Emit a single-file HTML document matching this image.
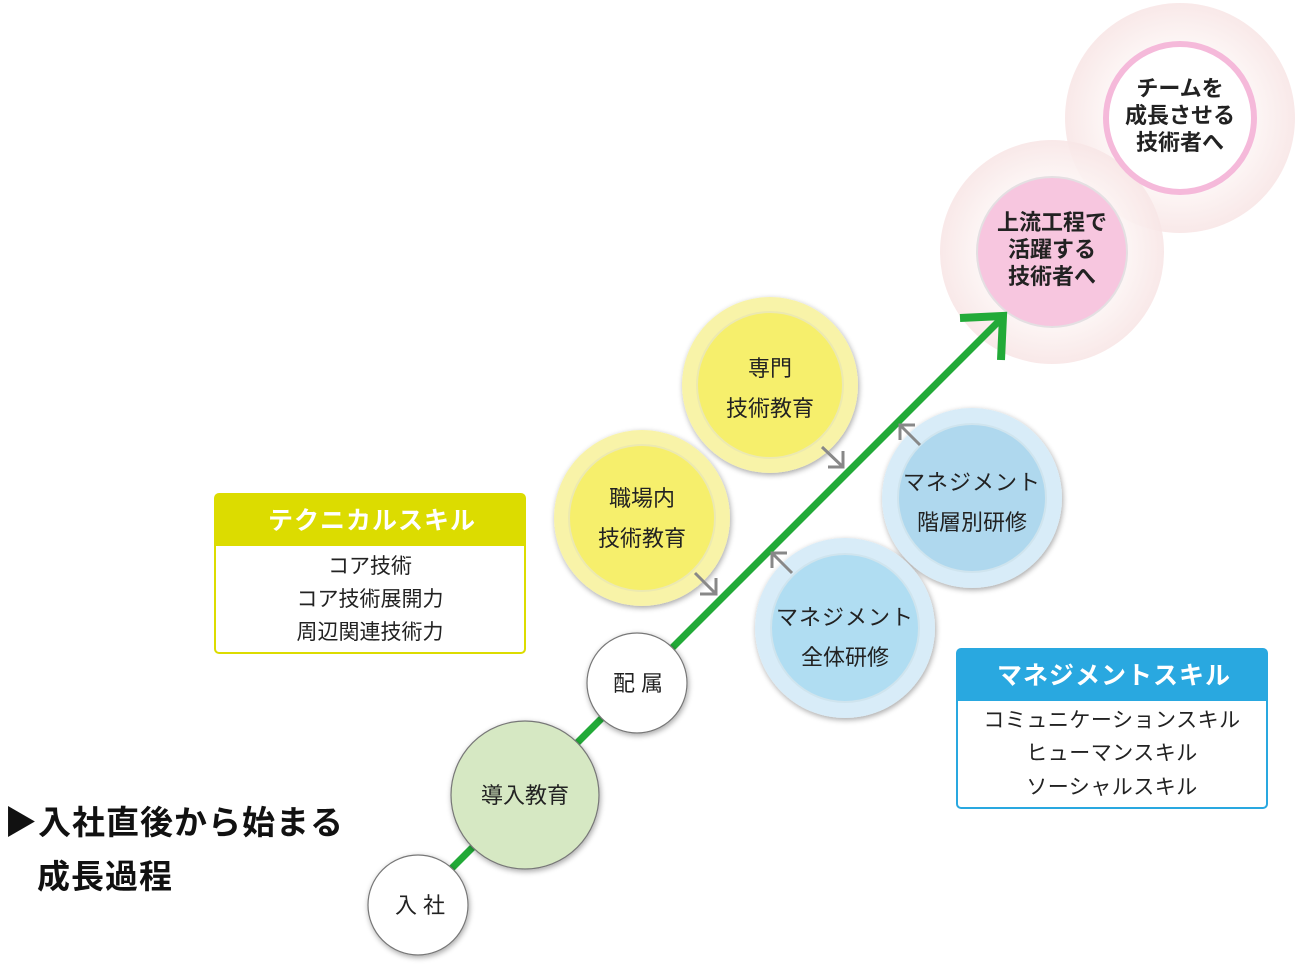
<!DOCTYPE html>
<html><head><meta charset="utf-8"><style>
html,body{margin:0;padding:0;background:#fff;}
svg{display:block;font-family:"Liberation Sans","Noto Sans CJK JP",sans-serif;}
</style></head><body>
<svg width="1300" height="968" viewBox="0 0 1300 968" xmlns="http://www.w3.org/2000/svg">
<defs>
<filter id="sh" x="-20%" y="-20%" width="140%" height="140%"><feGaussianBlur in="SourceAlpha" stdDeviation="3"/><feOffset dx="1" dy="2"/><feComponentTransfer><feFuncA type="linear" slope="0.35"/></feComponentTransfer><feMerge><feMergeNode/><feMergeNode in="SourceGraphic"/></feMerge></filter>
<radialGradient id="pk"><stop offset="0.6" stop-color="#fdf7f6"/><stop offset="1" stop-color="#f8e6e6"/></radialGradient>
</defs>
<circle cx="1180" cy="118" r="115" fill="url(#pk)" opacity="0.9"/>
<circle cx="1052" cy="252" r="112" fill="url(#pk)" opacity="0.9"/>
<circle cx="1180" cy="118" r="74" fill="#fff" stroke="#f5b9da" stroke-width="6"/>
<circle cx="1052" cy="252" r="75" fill="#f7c6df" stroke="#e4dfe2" stroke-width="2"/>
<g font-weight="bold" font-size="22" text-anchor="middle" fill="#222">
<text x="1180" y="96">チームを</text><text x="1180" y="123">成長させる</text><text x="1180" y="150">技術者へ</text>
<text x="1052" y="230">上流工程で</text><text x="1052" y="257">活躍する</text><text x="1052" y="284">技術者へ</text>
</g>
<g filter="url(#sh)">
<circle cx="770" cy="385" r="88" fill="#f8f3a8"/><circle cx="770" cy="385" r="73" fill="#f6ef6c" stroke="#ece9b0" stroke-width="2"/>
<circle cx="642" cy="518" r="88" fill="#f8f3a8"/><circle cx="642" cy="518" r="73" fill="#f6ef6c" stroke="#ece9b0" stroke-width="2"/>
<circle cx="972" cy="498" r="90" fill="#d8ecf8"/><circle cx="972" cy="498" r="74" fill="#afd8ee" stroke="#cfe4ee" stroke-width="2"/>
<circle cx="845" cy="628" r="90" fill="#d8ecf8"/><circle cx="845" cy="628" r="74" fill="#b0ddf2" stroke="#cfe4ee" stroke-width="2"/>
</g>
<line x1="440" y1="880" x2="1002" y2="318" stroke="#22aa38" stroke-width="7"/>
<polyline points="960,318 1003,316 1001,360" fill="none" stroke="#22aa38" stroke-width="8"/>
<g filter="url(#sh)">
<circle cx="418" cy="905" r="50" fill="#fff" stroke="#777" stroke-width="1.2"/>
<circle cx="525" cy="795" r="74" fill="#d6e8c3" stroke="#777" stroke-width="1.2"/>
<circle cx="637" cy="683" r="50" fill="#fff" stroke="#777" stroke-width="1.2"/>
</g>
<g stroke="#888" stroke-width="3" fill="none">
<line x1="822" y1="447" x2="843" y2="467"/><polyline points="828,467 843,467 843,451"/>
<line x1="695" y1="573" x2="716" y2="594"/><polyline points="700,594 716,594 716,578"/>
<line x1="920" y1="445" x2="900" y2="425"/><polyline points="900,440 900,425 915,425"/>
<line x1="792" y1="573" x2="772" y2="553"/><polyline points="772,568 772,553 787,553"/>
</g>
<g font-size="22" text-anchor="middle" fill="#222">
<text x="770" y="376">専門</text><text x="770" y="416">技術教育</text>
<text x="642" y="506">職場内</text><text x="642" y="546">技術教育</text>
<text x="972" y="490" letter-spacing="1">マネジメント</text><text x="972" y="530">階層別研修</text>
<text x="845" y="625" letter-spacing="1">マネジメント</text><text x="845" y="665">全体研修</text>
<text x="525" y="803">導入教育</text>
<text x="638" y="691">配 属</text>
<text x="420" y="913">入 社</text>
</g>
<rect x="215" y="494" width="310" height="159" rx="4" fill="#fff" stroke="#dcdc00" stroke-width="2"/>
<path d="M215 498 a4 4 0 0 1 4 -4 h302 a4 4 0 0 1 4 4 v48 h-310z" fill="#dcdc00"/>
<text x="372" y="529" font-size="25" font-weight="bold" fill="#fff" text-anchor="middle" letter-spacing="1">テクニカルスキル</text>
<g font-size="21" text-anchor="middle" fill="#222">
<text x="370" y="573">コア技術</text><text x="370" y="606">コア技術展開力</text><text x="370" y="639">周辺関連技術力</text>
</g>
<rect x="957" y="649" width="310" height="159" rx="4" fill="#fff" stroke="#29a8e0" stroke-width="2"/>
<path d="M957 653 a4 4 0 0 1 4 -4 h302 a4 4 0 0 1 4 4 v48 h-310z" fill="#29a8e0"/>
<text x="1114" y="684" font-size="25" font-weight="bold" fill="#fff" text-anchor="middle" letter-spacing="1">マネジメントスキル</text>
<g font-size="21" text-anchor="middle" fill="#222">
<text x="1112" y="727" letter-spacing="0.5">コミュニケーションスキル</text><text x="1112" y="760" letter-spacing="0.5">ヒューマンスキル</text><text x="1112" y="794" letter-spacing="0.5">ソーシャルスキル</text>
</g>
<g font-size="33" font-weight="bold" fill="#111">
<text x="4" y="834" letter-spacing="1">▶入社直後から始まる</text>
<text x="37" y="888" letter-spacing="1">成長過程</text>
</g>
</svg>
</body></html>
